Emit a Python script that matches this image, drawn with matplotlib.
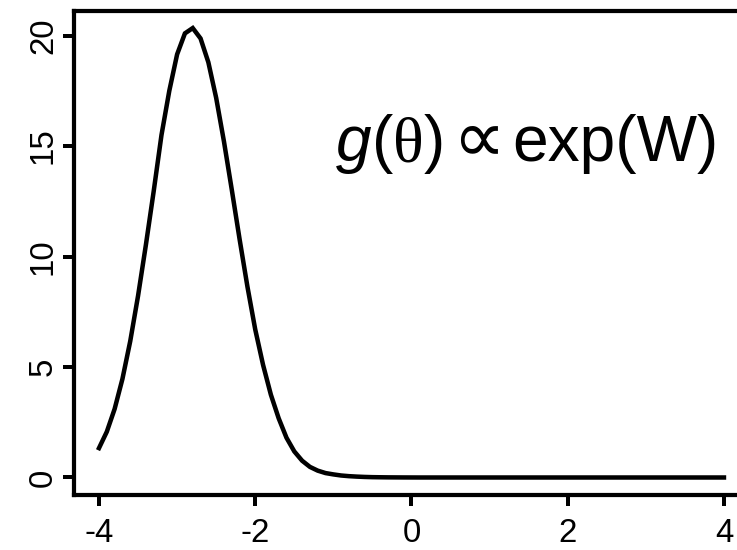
#!/usr/bin/env python3
import matplotlib
matplotlib.use('Agg')
import matplotlib.pyplot as plt
from matplotlib.offsetbox import TextArea, HPacker, AnnotationBbox

theta = [round(-4.0 + 0.1 * i, 1) for i in range(81)]
g = [1.33, 2.07, 3.10, 4.46, 6.17, 8.22, 10.52, 12.95, 15.50, 17.50,
     19.15, 20.10, 20.34, 19.87, 18.79, 17.18, 15.20, 13.02, 10.78, 8.64,
     6.70, 5.10, 3.75, 2.68, 1.80, 1.18, 0.76, 0.48, 0.31, 0.20,
     0.14, 0.09, 0.06, 0.04, 0.025, 0.015, 0.01, 0.006, 0.004, 0.002,
     0.001] + [0.0] * 40

plt.rcParams['font.family'] = 'Liberation Sans'

# 72 dpi so that one point is one pixel
fig = plt.figure(figsize=(737 / 72, 550 / 72), dpi=72)
ax = fig.add_axes([0.1004, 0.1009, 0.9158, 0.8782])
ax.plot(theta, g, color='black', lw=4.5, solid_joinstyle='miter')
ax.set_xlim(-4.32, 4.32)
ax.set_ylim(-0.77, 21.09)
ax.set_xticks([-4, -2, 0, 2, 4])
ax.set_xticklabels(['-4', '-2', '0', '2', '4'])
ax.set_yticks([0, 5, 10, 15, 20])
for s in ax.spines.values():
    s.set_linewidth(4.2)
ax.tick_params(length=11, width=4, labelsize=33)
ax.tick_params(axis='x', pad=12)
ax.tick_params(axis='y', pad=4)
for lab in ax.get_yticklabels():
    lab.set_rotation(90)
    lab.set_va('center')

fs = 64
left = HPacker(children=[
    TextArea('g', textprops=dict(fontsize=fs, style='italic', family='Liberation Sans')),
    TextArea('(', textprops=dict(fontsize=fs, family='Liberation Sans')),
    TextArea('\u03b8', textprops=dict(fontsize=fs, family='Liberation Serif')),
    TextArea(')', textprops=dict(fontsize=fs, family='Liberation Sans')),
], align='baseline', pad=0, sep=0)
prop = TextArea('\u221d', textprops=dict(fontsize=74, family='DejaVu Sans'))
right = TextArea('exp(W)', textprops=dict(fontsize=fs, family='Liberation Sans'))
box = HPacker(children=[left, prop, right], align='baseline', pad=0, sep=7)
ab = AnnotationBbox(box, (336 / 737, 1 - 141 / 550), xycoords='figure fraction',
                    box_alignment=(0, 0.5), frameon=False)
fig.add_artist(ab)

plt.savefig('out.png', dpi=72)
